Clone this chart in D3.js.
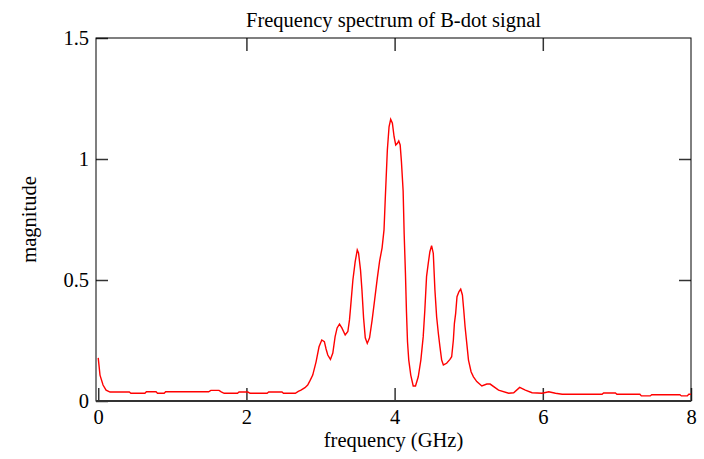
<!DOCTYPE html>
<html>
<head>
<meta charset="utf-8">
<script src="https://cdn.jsdelivr.net/npm/d3@7"></script>
<style>
  body { margin: 0; background: #fff; }
  #spectrum text { font-family: "Liberation Serif", "Times New Roman", serif; fill: #000; }
</style>
</head>
<body>
<div id="spectrum"></div>
<script>
// values
var freq = [
  0.00, 0.024, 0.065, 0.106, 0.16, 0.30, 0.42, 0.44, 0.63, 0.65, 0.78, 0.80, 0.89, 0.91,
  1.49, 1.52, 1.63, 1.66, 1.70, 1.88, 1.90, 2.02, 2.05, 2.28, 2.30, 2.48, 2.50, 2.66,
  2.70, 2.736, 2.79, 2.827, 2.86, 2.895, 2.94, 2.98, 3.017, 3.052, 3.075, 3.098, 3.134,
  3.166, 3.197, 3.224, 3.256, 3.288, 3.333, 3.369, 3.391, 3.405, 3.414, 3.437, 3.468,
  3.496, 3.513, 3.540, 3.559, 3.581, 3.604, 3.631, 3.662, 3.695, 3.730, 3.767, 3.798,
  3.831, 3.857, 3.875, 3.902, 3.925, 3.947, 3.970, 3.993, 4.015, 4.038, 4.056, 4.075,
  4.092, 4.115, 4.129, 4.146, 4.160, 4.174, 4.191, 4.218, 4.251, 4.282, 4.319, 4.354,
  4.386, 4.408, 4.431, 4.454, 4.476, 4.499, 4.522, 4.544, 4.567, 4.590, 4.612, 4.635,
  4.658, 4.702, 4.747, 4.770, 4.793, 4.807, 4.824, 4.842, 4.869, 4.892, 4.915, 4.933,
  4.951, 4.974, 4.997, 5.032, 5.064, 5.109, 5.177, 5.245, 5.289, 5.403, 5.539, 5.607,
  5.688, 5.764, 5.855, 5.991, 6.081, 6.171, 6.262, 6.80, 6.82, 6.98, 7.00, 7.31, 7.33,
  7.45, 7.47, 7.85, 7.87, 7.95, 7.97, 8.00
];
var magnitude = [
  0.178, 0.107, 0.066, 0.045, 0.037, 0.037, 0.037, 0.032, 0.032, 0.038, 0.038, 0.032, 0.032, 0.038,
  0.038, 0.044, 0.044, 0.038, 0.032, 0.032, 0.037, 0.037, 0.032, 0.032, 0.037, 0.037, 0.032, 0.032,
  0.040, 0.045, 0.055, 0.066, 0.085, 0.107, 0.162, 0.224, 0.252, 0.245, 0.215, 0.190, 0.172,
  0.198, 0.266, 0.302, 0.318, 0.302, 0.273, 0.287, 0.335, 0.384, 0.417, 0.500, 0.576,
  0.624, 0.612, 0.541, 0.459, 0.344, 0.261, 0.238, 0.261, 0.331, 0.417, 0.509, 0.579,
  0.633, 0.707, 0.844, 1.037, 1.133, 1.164, 1.148, 1.092, 1.058, 1.065, 1.075, 1.058,
  0.989, 0.868, 0.690, 0.529, 0.369, 0.245, 0.169, 0.107, 0.062, 0.062, 0.100, 0.169,
  0.266, 0.376, 0.514, 0.569, 0.617, 0.642, 0.610, 0.459, 0.348, 0.280, 0.224, 0.169,
  0.149, 0.156, 0.172, 0.183, 0.252, 0.321, 0.362, 0.431, 0.452, 0.462, 0.438, 0.376,
  0.307, 0.238, 0.169, 0.121, 0.100, 0.080, 0.062, 0.070, 0.070, 0.045, 0.032, 0.034,
  0.056, 0.045, 0.034, 0.032, 0.038, 0.032, 0.028, 0.028, 0.033, 0.033, 0.028, 0.028, 0.021,
  0.021, 0.026, 0.026, 0.021, 0.021, 0.028, 0.028
];
var xTicks = [0, 2, 4, 6, 8];
var yTicks = [0, 0.5, 1, 1.5];

var margin = { top: 38, right: 13, bottom: 58, left: 96 },
  width = 704 - margin.left - margin.right,
  height = 459 - margin.top - margin.bottom;

var x = d3.scaleLinear().domain([-0.03, 8]).range([0, width]);
var y = d3.scaleLinear().domain([0, 1.5]).range([height, 0]);

var svg = d3
  .select("#spectrum")
  .append("svg")
  .attr("width", 704)
  .attr("height", 459)
  .append("g")
  .attr("transform", "translate(" + margin.left + "," + margin.top + ")");

var data = freq.map(function(f, i) {
  return { f: f, m: magnitude[i] };
});

// inward ticks on all four sides
var tickLen = 13;
function styleAxis(g) {
  g.select(".domain").remove();
  g.selectAll(".tick line").attr("stroke", "#333").attr("stroke-width", 1.5);
}

svg.append("g")
  .attr("transform", "translate(0," + height + ")")
  .call(d3.axisBottom(x).tickValues(xTicks).tickSize(-tickLen).tickPadding(8).tickFormat(d3.format("d")))
  .call(styleAxis)
  .selectAll("text").attr("font-size", 20.5);

svg.append("g")
  .call(d3.axisTop(x).tickValues(xTicks.slice(1, -1)).tickSize(-tickLen).tickFormat(""))
  .call(styleAxis);

svg.append("g")
  .call(d3.axisLeft(y).tickValues(yTicks).tickSize(-12).tickPadding(7).tickFormat(function(d) { return d; }))
  .call(styleAxis)
  .selectAll("text").attr("font-size", 20.5);

svg.append("g")
  .attr("transform", "translate(" + width + ",0)")
  .call(d3.axisRight(y).tickValues(yTicks.slice(1, -1)).tickSize(-12).tickFormat(""))
  .call(styleAxis);

// frame
svg.append("rect")
  .attr("width", width)
  .attr("height", height)
  .attr("fill", "none")
  .attr("stroke", "#000")
  .attr("stroke-width", 1);

svg.append("line")
  .attr("x1", 0).attr("x2", width)
  .attr("y1", height).attr("y2", height)
  .attr("stroke", "#333")
  .attr("stroke-width", 2);

var valueline = d3
  .line()
  .x(function(d) { return x(d.f); })
  .y(function(d) { return y(d.m); });

svg.append("path")
  .attr("d", valueline(data))
  .attr("fill", "none")
  .attr("stroke", "#ff0000")
  .attr("stroke-width", 1.4);

svg.append("text")
  .attr("x", width / 2)
  .attr("y", -11)
  .attr("text-anchor", "middle")
  .attr("font-size", 20.5)
  .text("Frequency spectrum of B-dot signal");

svg.append("text")
  .attr("x", width / 2)
  .attr("y", height + 46)
  .attr("text-anchor", "middle")
  .attr("font-size", 20.5)
  .text("frequency (GHz)");

svg.append("text")
  .attr("transform", "translate(-60," + height / 2 + ") rotate(-90)")
  .attr("text-anchor", "middle")
  .attr("font-size", 20.5)
  .text("magnitude");
</script>
</body>
</html>
